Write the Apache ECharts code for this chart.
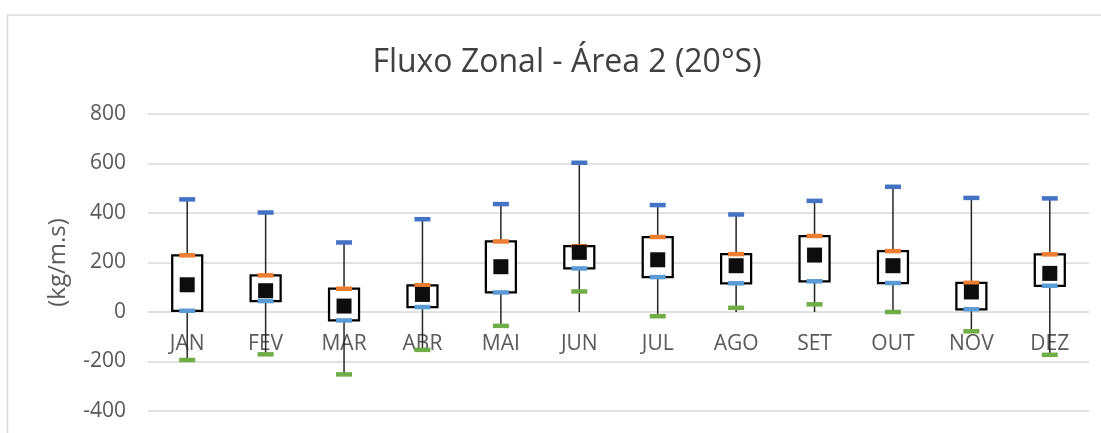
<!DOCTYPE html>
<html>
<head>
<meta charset="utf-8">
<script src="https://cdn.jsdelivr.net/npm/echarts@6/dist/echarts.min.js"></script>
<style>
html,body{margin:0;padding:0;background:#fff;}
#chart{width:1101px;height:433px;}
</style>
</head>
<body>
<div id="chart"></div>
<script>
const categories = ['JAN','FEV','MAR','ABR','MAI','JUN','JUL','AGO','SET','OUT','NOV','DEZ'];
const maxVals  = [455, 402, 281, 375, 436, 603, 432, 394, 449, 506, 461, 459];
const q3Vals   = [229, 148,  94, 108, 285, 266, 303, 234, 307, 246, 118, 233];
const meanVals = [110,  86,  24,  71, 183, 241, 211, 187, 230, 187,  81, 156];
const q1Vals   = [  5,  44, -34,  20,  79, 176, 141, 116, 124, 117,  11, 106];
const minVals  = [-194,-171,-252,-153,-56,  83, -17,  17,  31,   0, -78,-173];
const yTicks = { min: -400, max: 800, interval: 200 };

const FONT = '"Open Sans", "Noto Sans", sans-serif';
const chart = echarts.init(document.getElementById('chart'), null, {renderer:'canvas'});

const boxData = categories.map((c, i) => [i, maxVals[i], q3Vals[i], q1Vals[i], Math.min(minVals[i], 0)]);

function dash(name, data, color) {
  return {
    name, type: 'scatter', data, symbol: 'rect', symbolSize: [16, 4.5],
    itemStyle: { color, opacity: 1 }, z: 4, silent: true
  };
}

chart.setOption({
  animation: false,
  backgroundColor: '#fff',
  title: {
    text: 'Fluxo Zonal - Área 2 (20°S)',
    left: 562, top: 42, textAlign: 'center',
    textStyle: { fontFamily: FONT, fontSize: 32, fontWeight: 'normal', color: '#404040' }
  },
  graphic: [{
    type: 'rect', silent: true, z: -10,
    shape: { x: 7.5, y: 15, width: 1200, height: 500 },
    style: { fill: 'none', stroke: '#d9d9d9', lineWidth: 1.5 }
  }],
  grid: { left: 148, right: 12, top: 114, bottom: 22 },
  xAxis: {
    type: 'category', data: categories, boundaryGap: true,
    axisLine: { show: false },
    axisTick: { show: false },
    axisLabel: { show: false },
    splitLine: { show: false }
  },
  yAxis: {
    type: 'value', min: yTicks.min, max: yTicks.max, interval: yTicks.interval,
    name: '(kg/m.s)', nameLocation: 'middle', nameGap: 78,
    nameTextStyle: { fontFamily: FONT, fontSize: 24, color: '#595959' },
    axisLine: { show: false }, axisTick: { show: false },
    axisLabel: { fontFamily: FONT, fontSize: 21, color: '#595959', margin: 22 },
    splitLine: { lineStyle: { color: '#d9d9d9', width: 1.5 } }
  },
  series: [
    {
      type: 'custom', data: boxData, z: 2, silent: true,
      renderItem(params, api) {
        const i = api.value(0);
        const x = api.coord([i, 0])[0];
        const y0 = api.coord([i, 0])[1];
        const yMax = api.coord([i, api.value(1)])[1];
        const yQ3 = api.coord([i, api.value(2)])[1];
        const yQ1 = api.coord([i, api.value(3)])[1];
        const yLow = api.coord([i, api.value(4)])[1];
        const bw = 30;
        return {
          type: 'group',
          children: [
            { type: 'text', x: x, y: y0 + 22,
              style: { text: categories[i], fill: '#595959', font: '21px ' + FONT,
                       textAlign: 'center', textVerticalAlign: 'top' } },
            { type: 'line', shape: { x1: x, y1: yLow, x2: x, y2: yMax },
              style: { stroke: '#262626', lineWidth: 1.5 } },
            { type: 'rect', shape: { x: x - bw / 2, y: yQ3, width: bw, height: yQ1 - yQ3 },
              style: { fill: '#fff', stroke: '#000', lineWidth: 2.25 } }
          ]
        };
      }
    },
    dash('max', maxVals, '#4472C4'),
    dash('q3', q3Vals, '#ED7D31'),
    dash('q1', q1Vals, '#5B9BD5'),
    dash('min', minVals, '#70AD47'),
    {
      name: 'mean', type: 'scatter', data: meanVals, symbol: 'rect', symbolSize: 15,
      itemStyle: { color: '#0d0d0d', opacity: 1 }, z: 5, silent: true
    }
  ]
});
</script>
</body>
</html>
